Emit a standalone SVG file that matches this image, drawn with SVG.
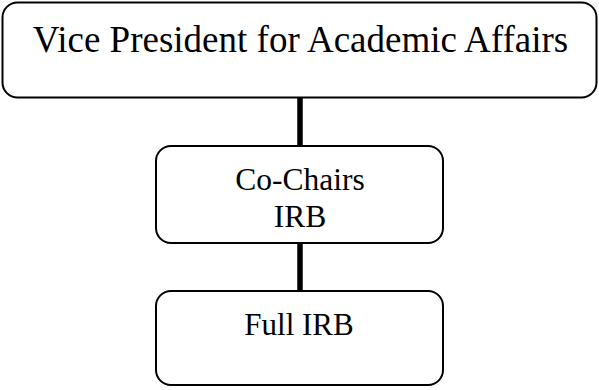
<svg xmlns="http://www.w3.org/2000/svg" width="599" height="390" viewBox="0 0 599 390">
<style>
.box{fill:#fff;stroke:#000;stroke-width:2}
.t{font-family:"Liberation Serif","Times New Roman",serif;fill:#000;text-anchor:middle}
.c{stroke:#000;stroke-width:5.5;fill:none}
</style>
<rect width="599" height="390" fill="#fff"/>
<g id="connectors">
<line class="c" x1="300" y1="97" x2="300" y2="146"/>
<line class="c" x1="300" y1="243" x2="300" y2="291"/>
</g>
<g id="vpaa">
<rect class="box" x="2.5" y="2.5" width="594" height="95" rx="15"/>
<text class="t" x="300.5" y="52" font-size="37">Vice President for Academic Affairs</text>
</g>
<g id="cochairs">
<rect class="box" x="156" y="146" width="287" height="97" rx="15"/>
<text class="t" x="300" y="190" font-size="31.5">Co-Chairs</text>
<text class="t" x="300" y="226.5" font-size="31.5">IRB</text>
</g>
<g id="fullirb">
<rect class="box" x="156" y="291" width="287" height="94" rx="15"/>
<text class="t" x="299" y="335" font-size="31">Full IRB</text>
</g>
</svg>
